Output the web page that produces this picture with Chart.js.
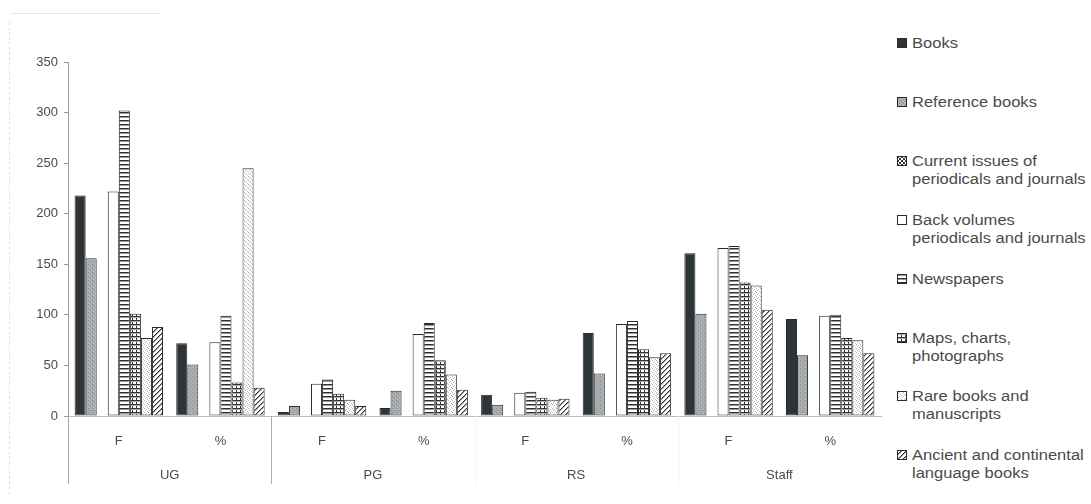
<!DOCTYPE html>
<html>
<head>
<meta charset="utf-8">
<script src="https://cdn.jsdelivr.net/npm/chart.js@4.4.0/dist/chart.umd.min.js"></script>
<style>
    body { margin: 0; background: #fff; font-family: "Liberation Sans", Arial, sans-serif; }
    #wrap { position: relative; width: 1091px; height: 504px; overflow: hidden; }
    #chartBox { position: absolute; left: 0; top: 0; width: 888px; height: 504px; }
    .scan-left { position: absolute; left: 9px; top: 22px; width: 0; height: 472px; border-left: 1px dashed #e2e2e2; }
    .scan-top { position: absolute; left: 10px; top: 13px; width: 150px; height: 0; border-top: 1px solid #e6e6e6; }
    .item { position: absolute; left: 897px; color: #4a4a4a; font-size: 14px; line-height: 18px; }
    .item canvas { position: absolute; left: 0; top: 4px; }
    .item span { position: absolute; left: 15px; top: 0; white-space: nowrap; transform: scaleX(1.18); transform-origin: 0 0; }
</style>
</head>
<body>
<div id="wrap">
    <div class="scan-left"></div>
    <div class="scan-top"></div>
    <div id="chartBox"><canvas id="chart"></canvas></div>
    <div id="legend"></div>
</div>
<script>
'use strict';

// ===== البيانات =====
const categories = ['F', '%', 'F', '%', 'F', '%', 'F', '%'];
const groups = ['UG', 'PG', 'RS', 'Staff'];
const yTicks = [0, 50, 100, 150, 200, 250, 300, 350];

const books          = [218, 72, 4, 8, 21, 82, 161, 96];
const referenceBooks = [156, 51, 10, 25, 11, 42, 101, 60];
const currentIssues  = [0, 0, 0, 0, 0, 0, 0, 0];
const backVolumes    = [222, 73, 32, 81, 23, 91, 166, 99];
const newspapers     = [302, 99, 36, 92, 24, 94, 168, 100];
const mapsCharts     = [101, 33, 22, 55, 18, 66, 132, 77];
const rareBooks      = [77, 245, 16, 41, 16, 58, 129, 75];
const ancientBooks   = [88, 28, 10, 26, 17, 62, 105, 62];

const seriesNames = [
    'Books',
    'Reference books',
    ['Current issues of', 'periodicals and journals'],
    ['Back volumes', 'periodicals and journals'],
    'Newspapers',
    ['Maps, charts,', 'photographs'],
    ['Rare books and', 'manuscripts'],
    ['Ancient and continental', 'language books']
];
const seriesData = [books, referenceBooks, currentIssues, backVolumes, newspapers, mapsCharts, rareBooks, ancientBooks];
const seriesFill = ['dark', 'gray', 'check', 'white', 'hstripe', 'grid', 'dots', 'diag'];

// ===== الأنماط (تعبئة بالخطوط والنقاط) =====
function makeFill(ctx, kind) {
    if (kind === 'dark') return '#2e3538';
    if (kind === 'white') return '#ffffff';
    const c = document.createElement('canvas');
    const size = kind === 'diag' ? 5 : 4;
    c.width = size; c.height = size;
    const g = c.getContext('2d');
    g.fillStyle = '#fff';
    g.fillRect(0, 0, size, size);
    const px = (x, y, col) => { g.fillStyle = col; g.fillRect(x, y, 1, 1); };
    if (kind === 'gray') {
        g.fillStyle = '#a6abad'; g.fillRect(0, 0, size, size);
        px(0, 0, '#899093'); px(2, 2, '#8e9496'); px(3, 1, '#babfc1'); px(1, 3, '#b8bcbe');
    } else if (kind === 'check') {
        g.fillStyle = '#333'; g.fillRect(0, 0, 2, 2); g.fillRect(2, 2, 2, 2);
    } else if (kind === 'hstripe') {
        g.fillStyle = '#2f2f2f'; g.fillRect(0, 0, size, 1);
        g.fillStyle = '#999'; g.fillRect(0, 1, size, 1);
    } else if (kind === 'grid') {
        g.fillStyle = '#333'; g.fillRect(0, 0, size, 1); g.fillRect(0, 0, 1, size);
        g.fillStyle = '#aaa'; g.fillRect(0, 1, size, 1);
    } else if (kind === 'dots') {
        px(0, 0, '#b0b0b0'); px(2, 1, '#c4c4c4'); px(1, 2, '#b0b0b0'); px(3, 3, '#c4c4c4');
    } else if (kind === 'diag') {
        for (let i = 0; i < size; i++) {
            px(i, size - 1 - i, '#333');
            px((i + 1) % size, size - 1 - i, '#9a9a9a');
        }
    }
    return ctx.createPattern(c, 'repeat');
}

// ===== فواصل المجموعات أسفل المحور =====
const groupDividers = {
    id: 'groupDividers',
    afterDraw(chart) {
        const x = chart.scales.x, x2 = chart.scales.x2, ctx = chart.ctx;
        const step = (x.right - x.left) / categories.length;
        ctx.save();
        ctx.lineWidth = 1;
        [0, 2, 4, 6].forEach((i, k) => {
            const p = Math.round(x.left + i * step) + 0.5;
            ctx.strokeStyle = k < 2 ? '#acacac' : '#f3f3f3';
            ctx.beginPath();
            ctx.moveTo(p, chart.chartArea.bottom);
            ctx.lineTo(p, x2.bottom - 12);
            ctx.stroke();
        });
        ctx.restore();
    }
};

const ctx = document.getElementById('chart').getContext('2d');

const datasets = seriesData.map((data, i) => ({
    label: Array.isArray(seriesNames[i]) ? seriesNames[i].join(' ') : seriesNames[i],
    data: data,
    backgroundColor: makeFill(ctx, seriesFill[i]),
    borderColor: '#2a2a2a',
    borderWidth: 1,
    borderSkipped: false,
    categoryPercentage: 0.87,
    barPercentage: 1.0
}));

const textColor = '#4a4a4a';
const tickFont = { family: '"Liberation Sans", Arial, sans-serif', size: 13 };

new Chart(ctx, {
    type: 'bar',
    data: { labels: categories, datasets: datasets },
    options: {
        responsive: true,
        maintainAspectRatio: false,
        animation: false,
        events: [],
        layout: { padding: { left: 8, top: 62, right: 7, bottom: 8 } },
        plugins: { legend: { display: false }, tooltip: { enabled: false } },
        scales: {
            y: {
                min: 0,
                max: 350,
                afterBuildTicks: (s) => { s.ticks = yTicks.map(v => ({ value: v })); },
                afterFit: (s) => { s.width = 60; },
                grid: { drawOnChartArea: false, drawTicks: true, tickLength: 4, color: '#9a9a9a' },
                border: { color: '#9a9a9a' },
                ticks: { color: textColor, font: tickFont, padding: 6 }
            },
            x: {
                afterFit: (s) => { s.height = 40; },
                grid: { display: false },
                border: { color: '#bdbdbd' },
                ticks: { color: textColor, font: tickFont, padding: 10, maxRotation: 0 }
            },
            x2: {
                type: 'category',
                labels: groups,
                position: 'bottom',
                offset: true,
                afterFit: (s) => { s.height = 40; },
                grid: { display: false },
                border: { display: false },
                ticks: { color: textColor, font: tickFont, padding: 4, maxRotation: 0 }
            }
        }
    },
    plugins: [groupDividers]
});

// ===== وسيلة الإيضاح =====
const legend = document.getElementById('legend');
seriesNames.forEach((name, i) => {
    const item = document.createElement('div');
    item.className = 'item';
    item.style.top = Math.round(34 + i * 58.9) + 'px';
    const sw = document.createElement('canvas');
    sw.width = 10; sw.height = 10;
    const sctx = sw.getContext('2d');
    sctx.fillStyle = makeFill(sctx, seriesFill[i]);
    sctx.fillRect(0, 0, 10, 10);
    sctx.strokeStyle = '#2a2a2a';
    sctx.lineWidth = 1;
    sctx.strokeRect(0.5, 0.5, 9, 9);
    const span = document.createElement('span');
    span.innerHTML = Array.isArray(name) ? name.join('<br>') : name;
    item.appendChild(sw);
    item.appendChild(span);
    legend.appendChild(item);
});
</script>
</body>
</html>
